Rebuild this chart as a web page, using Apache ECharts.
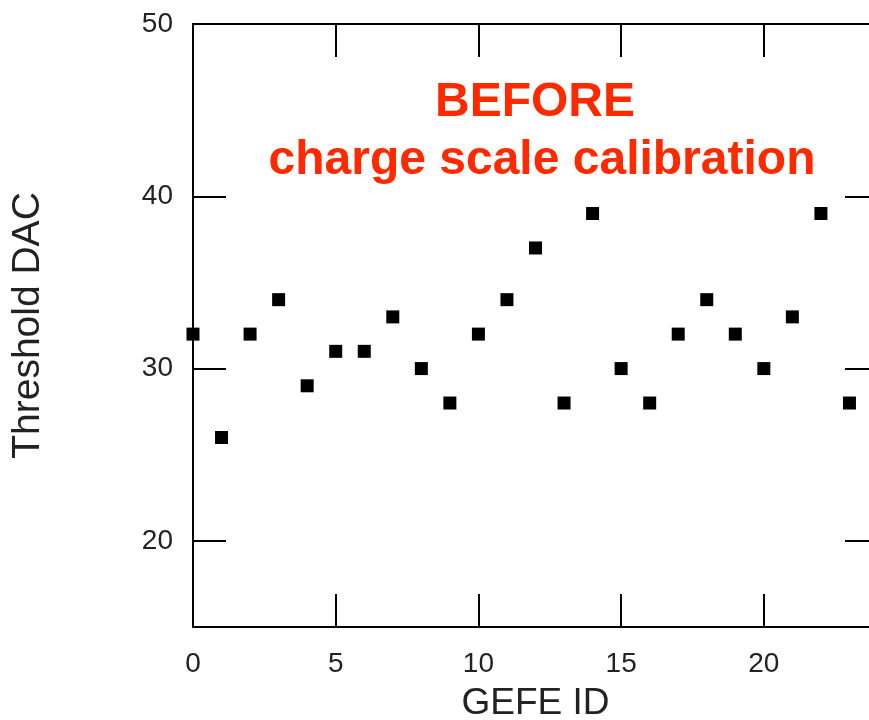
<!DOCTYPE html>
<html>
<head>
<meta charset="utf-8">
<script src="https://cdn.jsdelivr.net/npm/echarts@6/dist/echarts.min.js"></script>
<style>
html,body{margin:0;padding:0;background:#fff;}
#main{width:869px;height:720px;}
</style>
</head>
<body>
<div id="main"></div>
<script>
const gefeIds = [0,1,2,3,4,5,6,7,8,9,10,11,12,13,14,15,16,17,18,19,20,21,22,23];
const thresholdDac = [32,26,32,34,29,31,31,33,30,28,32,34,37,28,39,30,28,32,34,32,30,33,39,28];
const xTicks = [0,5,10,15,20];
const yTicks = [20,30,40,50];
const titleLines = ['BEFORE','charge scale calibration'];

const points = gefeIds.map((id,i)=>[id, thresholdDac[i]]);
const FONT = '"Liberation Sans", Arial, sans-serif';
const lineStyle = {color:'#000', width:2};

const chart = echarts.init(document.getElementById('main'), null, {renderer:'canvas'});
chart.setOption({
  backgroundColor:'#fff',
  animation:false,
  grid:{left:193, width:685, top:24, height:603, containLabel:false, outerBoundsMode:'none'},
  xAxis:[{
    type:'value', min:0, max:24, position:'bottom',
    name:'GEFE ID', nameLocation:'middle', nameGap:58,
    nameTextStyle:{fontFamily:FONT, fontSize:37, color:'#222'},
    axisLine:{show:true, onZero:false, lineStyle},
    axisTick:{show:true, inside:true, length:33, lineStyle, customValues:xTicks},
    axisLabel:{show:true, margin:23, fontFamily:FONT, fontSize:28, color:'#222', customValues:xTicks},
    splitLine:{show:false}
  },{
    type:'value', min:0, max:24, position:'top',
    axisLine:{show:true, onZero:false, lineStyle},
    axisTick:{show:true, inside:true, length:33, lineStyle, customValues:xTicks},
    axisLabel:{show:false},
    splitLine:{show:false}
  }],
  yAxis:[{
    type:'value', min:15, max:50, position:'left',
    name:'Threshold DAC', nameLocation:'middle', nameGap:145, nameRotate:90,
    nameTextStyle:{fontFamily:FONT, fontSize:39, color:'#222'},
    axisLine:{show:true, onZero:false, lineStyle},
    axisTick:{show:true, inside:true, length:33, lineStyle, customValues:yTicks},
    axisLabel:{show:true, margin:20, fontFamily:FONT, fontSize:28, color:'#222', customValues:yTicks},
    splitLine:{show:false}
  },{
    type:'value', min:15, max:50, position:'right',
    axisLine:{show:true, onZero:false, lineStyle},
    axisTick:{show:true, inside:true, length:33, lineStyle, customValues:yTicks},
    axisLabel:{show:false},
    splitLine:{show:false}
  }],
  graphic:[
    {type:'text', z:100, style:{text:titleLines[0], x:535, y:103, textAlign:'center', textVerticalAlign:'middle',
      font:'bold 48px "Liberation Sans", Arial, sans-serif', fill:'#ff2900'}},
    {type:'text', z:100, style:{text:titleLines[1], x:542, y:161, textAlign:'center', textVerticalAlign:'middle',
      font:'bold 48px "Liberation Sans", Arial, sans-serif', fill:'#ff2900'}}
  ],
  series:[{
    type:'scatter', xAxisIndex:0, yAxisIndex:0,
    data:points, symbol:'rect', symbolSize:13,
    itemStyle:{color:'#000', opacity:1}, clip:false, z:10,
    emphasis:{disabled:true}
  }]
});
</script>
</body>
</html>
